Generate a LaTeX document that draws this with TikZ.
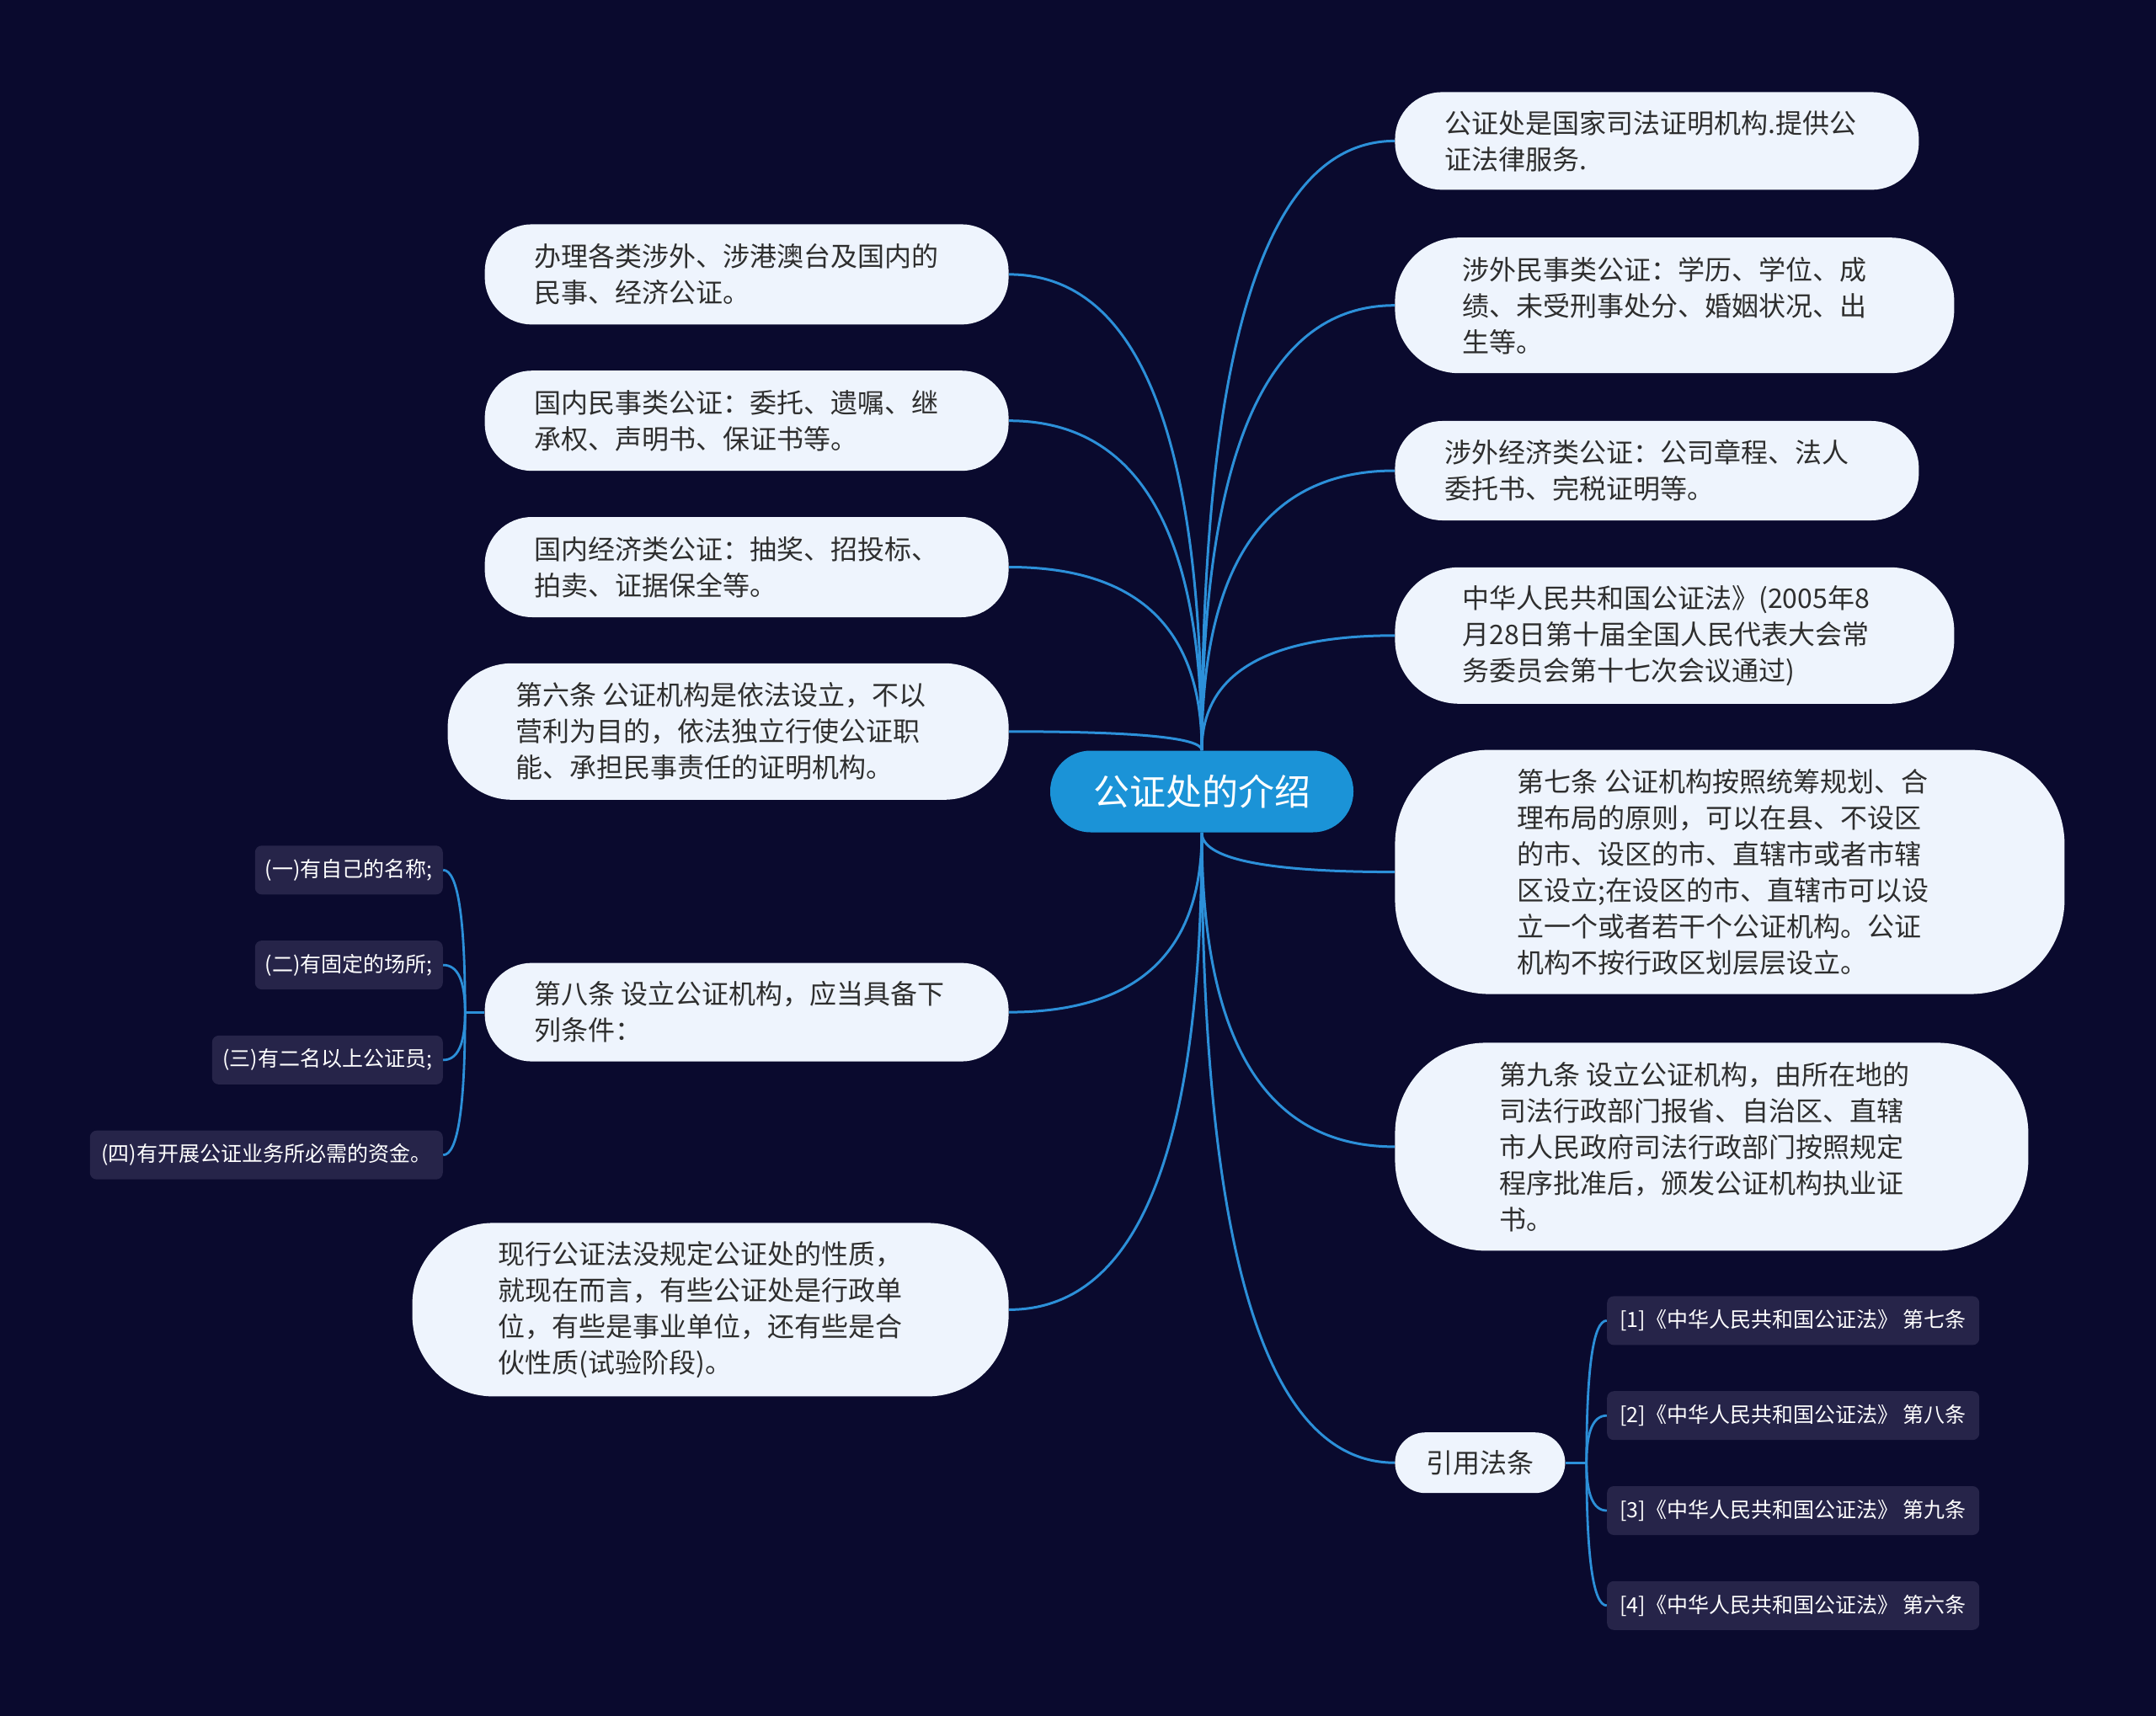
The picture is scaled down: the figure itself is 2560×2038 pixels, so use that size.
\documentclass[tikz,border=0pt]{standalone}
\usepackage{fontspec}
\newfontfamily\cjk{Noto Sans CJK SC}
\usepackage{xcolor}
\usepackage{tikz}
\usetikzlibrary{positioning,backgrounds,calc}
\definecolor{navy}{HTML}{0A0A2E}
\definecolor{hubblue}{HTML}{1B93D7}
\definecolor{cardfill}{HTML}{EEF4FD}
\definecolor{ink}{HTML}{2E2E2E}
\definecolor{tipfill}{HTML}{262449}
\definecolor{linkblue}{HTML}{2C90D9}
\tikzset{
  root/.style={fill=hubblue,text=white,rounded corners=24pt,minimum width=180pt,minimum height=48.5pt,font=\cjk\fontsize{21.5pt}{26pt}\selectfont},
  card/.style={fill=cardfill,text=ink,align=left,text width=252pt,inner ysep=10pt,font=\cjk\fontsize{16pt}{21.5pt}\selectfont},
  tip/.style={fill=tipfill,text=white,rounded corners=4pt,inner xsep=6pt,minimum height=29pt,font=\cjk\fontsize{12.5pt}{15pt}\selectfont},
  link/.style={draw=linkblue,line width=1.5pt},
  twig/.style={draw=linkblue,line width=1.4pt},
  branch/.style={to path={.. controls ($(\tikztostart)!.667!(\tikztostart |- \tikztotarget)$)
    and ($(\tikztotarget)!.667!(\tikztostart |- \tikztotarget)$) .. (\tikztotarget)}}
}
\begin{document}
\begin{tikzpicture}[x=0.5pt,y=-0.5pt]
  \node[root] (hub) at (1427,940) {公证处的介绍};
  % right side
  \node[card,anchor=north west,inner xsep=29.5pt,minimum height=58pt,rounded corners=28pt] (r1) at (1656,109)
    {公证处是国家司法证明机构.提供公\\证法律服务.};
  \node[card,below=28pt of r1.south west,anchor=north west,inner xsep=40pt,minimum height=80.5pt,rounded corners=38pt] (r2)
    {涉外民事类公证：学历、学位、成\\绩、未受刑事处分、婚姻状况、出\\生等。};
  \node[card,below=28pt of r2.south west,anchor=north west,inner xsep=29.5pt,minimum height=59pt,rounded corners=28pt] (r3)
    {涉外经济类公证：公司章程、法人\\委托书、完税证明等。};
  \node[card,below=27.5pt of r3.south west,anchor=north west,inner xsep=40pt,minimum height=81pt,rounded corners=38pt] (r4)
    {中华人民共和国公证法》(2005年8\\月28日第十届全国人民代表大会常\\务委员会第十七次会议通过)};
  \node[card,below=27pt of r4.south west,anchor=north west,inner xsep=72.75pt,minimum height=145pt,rounded corners=56pt] (r5)
    {第七条\hspace{3.6pt}公证机构按照统筹规划、合\\理布局的原则，可以在县、不设区\\的市、设区的市、直辖市或者市辖\\区设立;在设区的市、直辖市可以设\\立一个或者若干个公证机构。公证\\机构不按行政区划层层设立。};
  \node[card,below=28.5pt of r5.south west,anchor=north west,inner xsep=62pt,minimum height=123.5pt,rounded corners=54pt] (r6)
    {第九条\hspace{3.6pt}设立公证机构，由所在地的\\司法行政部门报省、自治区、直辖\\市人民政府司法行政部门按照规定\\程序批准后，颁发公证机构执业证\\书。};
  \node[fill=cardfill,text=ink,rounded corners=18pt,minimum width=101pt,minimum height=36pt,font=\cjk\fontsize{16pt}{20pt}\selectfont,
    below=107.5pt of r6.south west,anchor=north west] (laws) {引用法条};
  \node[tip,minimum width=221pt,right=24.5pt of laws.east,yshift=28pt] (ref2) {[2]《中华人民共和国公证法》 第八条};
  \node[tip,minimum width=221pt,above=27pt of ref2.north west,anchor=south west] (ref1) {[1]《中华人民共和国公证法》 第七条};
  \node[tip,minimum width=221pt,below=27pt of ref2.south west,anchor=north west] (ref3) {[3]《中华人民共和国公证法》 第九条};
  \node[tip,minimum width=221pt,below=27pt of ref3.south west,anchor=north west] (ref4) {[4]《中华人民共和国公证法》 第六条};
  \coordinate (forklaws) at ([xshift=12.5pt]laws.east);
  % left side
  \node[card,anchor=north east,inner xsep=29.5pt,minimum height=59.5pt,rounded corners=28pt] (l1) at (1198,266)
    {办理各类涉外、涉港澳台及国内的\\民事、经济公证。};
  \node[card,below=27pt of l1.south east,anchor=north east,inner xsep=29.5pt,minimum height=59.5pt,rounded corners=28pt] (l2)
    {国内民事类公证：委托、遗嘱、继\\承权、声明书、保证书等。};
  \node[card,below=27pt of l2.south east,anchor=north east,inner xsep=29.5pt,minimum height=59.5pt,rounded corners=28pt] (l3)
    {国内经济类公证：抽奖、招投标、\\拍卖、证据保全等。};
  \node[card,below=27pt of l3.south east,anchor=north east,inner xsep=40.5pt,minimum height=81pt,rounded corners=38pt] (l4)
    {第六条\hspace{3.6pt}公证机构是依法设立，不以\\营利为目的，依法独立行使公证职\\能、承担民事责任的证明机构。};
  \node[card,below=96.5pt of l4.south east,anchor=north east,inner xsep=29.5pt,minimum height=58.5pt,rounded corners=28pt] (l5)
    {第八条\hspace{3.6pt}设立公证机构，应当具备下\\列条件：};
  \node[card,below=95.5pt of l5.south east,anchor=north east,inner xsep=51pt,minimum height=103pt,rounded corners=48pt] (l6)
    {现行公证法没规定公证处的性质，\\就现在而言，有些公证处是行政单\\位，有些是事业单位，还有些是合\\伙性质(试验阶段)。};
  \node[tip,minimum width=111.5pt,left=24.5pt of l5.west,yshift=28pt] (c2) {(二)有固定的场所;};
  \node[tip,minimum width=111.5pt,above=27pt of c2.north east,anchor=south east] (c1) {(一)有自己的名称;};
  \node[tip,minimum width=137pt,below=27pt of c2.south east,anchor=north east] (c3) {(三)有二名以上公证员;};
  \node[tip,minimum width=209.5pt,below=27pt of c3.south east,anchor=north east] (c4) {(四)有开展公证业务所必需的资金。};
  \coordinate (fork8) at ([xshift=-11.5pt]l5.west);
  \begin{scope}[on background layer]
    \fill[navy] (0,0) rectangle (2560,2038);
    \foreach \n in {r1,r2,r3,r4} \draw[link] (hub.north) to[branch] (\n.west);
    \foreach \n in {r5,r6,laws} \draw[link] (hub.south) to[branch] (\n.west);
    \foreach \n in {l1,l2,l3,l4} \draw[link] (hub.north) to[branch] (\n.east);
    \foreach \n in {l5,l6} \draw[link] (hub.south) to[branch] (\n.east);
    \draw[twig] (l5.west) -- (fork8);
    \foreach \n in {c1,c2,c3,c4} \draw[twig] (fork8) to[branch] (\n.east);
    \draw[twig] (laws.east) -- (forklaws);
    \foreach \n in {ref1,ref2,ref3,ref4} \draw[twig] (forklaws) to[branch] (\n.west);
  \end{scope}
\end{tikzpicture}
\end{document}
